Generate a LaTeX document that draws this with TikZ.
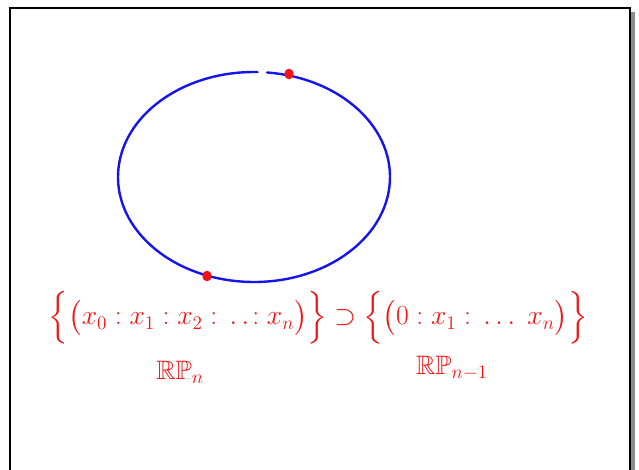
\documentclass[tikz,border=0pt]{standalone}
\usepackage{amsmath}
\usepackage{amssymb}
\usepackage{xcolor}
\usetikzlibrary{
    positioning,
    calc,
}
\definecolor{penblue}{RGB}{20,20,235}
\definecolor{penred}{RGB}{240,20,20}
\tikzset{
    % Stroke styles
    pen blue/.style={draw=penblue, line width=1.8pt, line cap=round},
    frame line/.style={draw=black, line width=1.5pt},
    frame shadow/.style={fill=black!45},
    % Annotation styles
    set text/.style={text=penred, font=\fontsize{22}{26}\selectfont, inner sep=0pt},
    space label/.style={text=penred, font=\fontsize{20}{24}\selectfont, inner sep=0pt},
    marker/.style={ellipse, fill=penred, minimum width=7pt, minimum height=8pt, inner sep=0pt},
}
\usetikzlibrary{shapes.geometric}

\begin{document}
\begin{tikzpicture}[x=0.75pt, y=-0.75pt]
    \useasboundingbox (0,0) rectangle (639,470);
    \fill[white] (0,0) rectangle (639,470);

    % Frame
    \fill[frame shadow] (631,12) rectangle (635,470);
    \draw[frame line] (10,471) -- (10,8) -- (630,8) -- (630,471);

    % Circle, open at the top
    \coordinate (c) at (254,177);
    \draw[pen blue] ($(c)+(-84.5:136 and 105)$) arc[start angle=-84.5, end angle=271.5, x radius=136, y radius=105];

    % Points
    \node[marker] (ptop) at (289,74) {};
    \node[marker] (pbot) at (207,276) {};

    % Sets
    \node[set text] (setn) at (188,318) {$\Bigl\{\bigl(x_0 : x_1 : x_2 : \,.\,.\!: x_n\bigr)\Bigr\}$};
    \node[set text, right=5pt of setn] (sup) {$\supset$};
    \node[set text, right=5pt of sup] (setm) {$\Bigl\{\bigl(0 : x_1 : \,\dots\; x_n\bigr)\Bigr\}$};

    % Labels
    \node[space label] (rpn) at (180,372) {$\mathbb{R}\mathbb{P}_n$};
    \node[space label] (rpm) at (452,368) {$\mathbb{R}\mathbb{P}_{n-1}$};
\end{tikzpicture}
\end{document}
